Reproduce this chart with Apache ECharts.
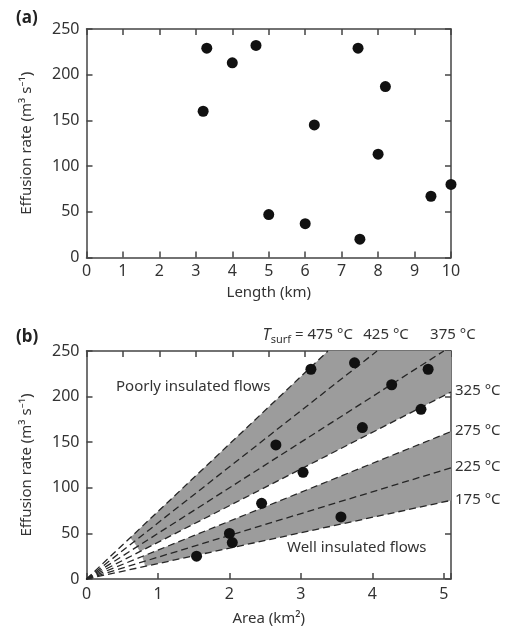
<!DOCTYPE html>
<html>
<head>
<meta charset="utf-8">
<script src="https://cdn.jsdelivr.net/npm/echarts@6/dist/echarts.min.js"></script>
<style>
  html, body { margin: 0; padding: 0; background: #fff; }
  #chart { width: 510px; height: 628px; }
</style>
</head>
<body>
<div id="chart"></div>
<script>
// Panel (a): effusion rate against flow length
const lengthKm     = [3.3, 4.0, 4.65, 7.45, 8.2, 3.2, 6.25, 8.0, 10.0, 9.45, 5.0, 6.0, 7.5];
const rateVsLength = [229, 213, 232, 229, 187, 160, 145, 113, 80, 67, 47, 37, 20];

// Panel (b): effusion rate against flow area
const areaKm2      = [3.14, 3.75, 4.78, 4.27, 4.68, 3.86, 2.65, 3.03, 2.45, 2.0, 2.04, 1.54, 3.56];
const rateVsArea   = [230, 237, 230, 213, 186, 166, 147, 117, 83, 50, 40, 25, 68];

// Model lines: effusion rate per unit area (m³ s⁻¹ per km²) for each surface temperature
const surfTempC    = [475, 425, 375, 325, 275, 225, 175];
const ratePerArea  = [74, 61.5, 50, 40.2, 31.7, 23.9, 16.9];

// Shaded envelopes, given as [upper, lower] surface temperature
const bands = [[475, 325], [275, 175]];

// Axis ranges
const lengthRange = [0, 10];
const areaRange   = [0, 5.1];
const rateRange   = [0, 250];

const FONT = 'Noto Sans';
const INK = '#333';
const AXIS = '#444';

function frameAxis(extra) {
  return Object.assign({
    type: 'value',
    axisLine: { show: true, onZero: false, lineStyle: { color: AXIS, width: 1.5 } },
    axisTick: { show: true, inside: true, length: 6, lineStyle: { color: AXIS, width: 1.5 } },
    splitLine: { show: false },
    axisLabel: { show: false }
  }, extra);
}

const tickLabel = (margin) => ({
  show: true, fontFamily: FONT, fontSize: 16, color: INK, margin: margin,
  formatter: v => (Math.abs(v - Math.round(v)) < 1e-9 ? String(Math.round(v)) : '')
});

// Shading of the envelopes starts this many pixels out from the origin
const FAN_GAP = 60;

function bandItem(params, api) {
  const [tHi, tLo] = bands[params.dataIndex];
  const iHi = surfTempC.indexOf(tHi), iLo = surfTempC.indexOf(tLo);
  const xMax = areaRange[1];
  const o = api.coord([0, 0]);
  const pts = [];
  for (let i = iHi; i <= iLo; i++) {
    const e = api.coord([xMax, ratePerArea[i] * xMax]);
    const dx = e[0] - o[0], dy = e[1] - o[1], L = Math.hypot(dx, dy);
    pts.push([o[0] + dx / L * FAN_GAP, o[1] + dy / L * FAN_GAP]);
  }
  pts.push(api.coord([xMax, ratePerArea[iLo] * xMax]));
  pts.push(api.coord([xMax, ratePerArea[iHi] * xMax]));
  return { type: 'polygon', shape: { points: pts }, style: { fill: '#9c9c9c' } };
}

function lineItem(params, api) {
  const i = params.dataIndex;
  const k = ratePerArea[i];
  const xEnd = Math.min(areaRange[1], rateRange[1] / k);
  const o = api.coord([0, 0]);
  const e = api.coord([xEnd, k * xEnd]);
  const children = [{
    type: 'line',
    shape: { x1: o[0], y1: o[1], x2: e[0], y2: e[1] },
    style: { stroke: '#262626', lineWidth: 1.3, lineDash: [7, 4] }
  }];
  const exitsTop = xEnd < areaRange[1];
  const label = surfTempC[i] + ' °C';
  if (exitsTop) {
    if (i === 0) {
      children.push({
        type: 'text', x: e[0] + 25, y: e[1] - 16,
        style: {
          text: '{t|T}{s|surf}{n| = ' + label + '}',
          align: 'right', verticalAlign: 'middle',
          rich: {
            t: { fontFamily: FONT, fontSize: 16, fontStyle: 'italic', fill: INK, verticalAlign: 'middle' },
            s: { fontFamily: FONT, fontSize: 11, fill: INK, padding: [9, 0, 0, 0], verticalAlign: 'middle' },
            n: { fontFamily: FONT, fontSize: 15, fill: INK, verticalAlign: 'middle' }
          }
        }
      });
    } else {
      children.push({
        type: 'text', x: e[0] + 9, y: e[1] - 16,
        style: { text: label, fontFamily: FONT, fontSize: 15, fill: INK, align: 'center', verticalAlign: 'middle' }
      });
    }
  } else {
    children.push({
      type: 'text', x: e[0] + 4, y: e[1] - 1,
      style: { text: label, fontFamily: FONT, fontSize: 15, fill: INK, align: 'left', verticalAlign: 'middle' }
    });
  }
  return { type: 'group', children: children };
}

const chart = echarts.init(document.getElementById('chart'), null, { renderer: 'canvas' });

chart.setOption({
  backgroundColor: '#fff',
  animation: false,
  title: [
    { text: '(a)', left: 11, top: 5, textStyle: { fontFamily: FONT, fontSize: 17, fontWeight: 'bold', color: '#222' } },
    { text: '(b)', left: 11, top: 324, textStyle: { fontFamily: FONT, fontSize: 17, fontWeight: 'bold', color: '#222' } }
  ],
  grid: [
    { left: 86.5, top: 29, width: 364.5, height: 228.5 },
    { left: 86.5, top: 351, width: 364.5, height: 228 }
  ],
  xAxis: [
    frameAxis({
      gridIndex: 0, position: 'bottom', min: lengthRange[0], max: lengthRange[1], interval: 1,
      axisLabel: tickLabel(6),
      name: 'Length (km)', nameLocation: 'middle', nameGap: 28,
      nameTextStyle: { fontFamily: FONT, fontSize: 15, color: INK }
    }),
    frameAxis({ gridIndex: 0, position: 'top', min: lengthRange[0], max: lengthRange[1], interval: 1 }),
    frameAxis({
      gridIndex: 1, position: 'bottom', min: areaRange[0], max: areaRange[1], interval: 1,
      axisLabel: tickLabel(7),
      name: 'Area (km²)', nameLocation: 'middle', nameGap: 32,
      nameTextStyle: { fontFamily: FONT, fontSize: 15, color: INK }
    }),
    frameAxis({ gridIndex: 1, position: 'top', min: lengthRange[0], max: lengthRange[1], interval: 1 })
  ],
  yAxis: [
    frameAxis({
      gridIndex: 0, position: 'left', min: rateRange[0], max: rateRange[1], interval: 50,
      axisLabel: tickLabel(7),
      name: 'Effusion rate (m³ s⁻¹)', nameLocation: 'middle', nameGap: 52,
      nameTextStyle: { fontFamily: FONT, fontSize: 15, color: INK }
    }),
    frameAxis({ gridIndex: 0, position: 'right', min: rateRange[0], max: rateRange[1], interval: 50 }),
    frameAxis({
      gridIndex: 1, position: 'left', min: rateRange[0], max: rateRange[1], interval: 50,
      axisLabel: tickLabel(7),
      name: 'Effusion rate (m³ s⁻¹)', nameLocation: 'middle', nameGap: 52,
      nameTextStyle: { fontFamily: FONT, fontSize: 15, color: INK }
    }),
    frameAxis({ gridIndex: 1, position: 'right', min: rateRange[0], max: rateRange[1], interval: 50 })
  ],
  graphic: [
    { type: 'text', left: 116, top: 379, style: { text: 'Poorly insulated flows', fontFamily: FONT, fontSize: 15, fill: INK } },
    { type: 'text', left: 287, top: 540, style: { text: 'Well insulated flows', fontFamily: FONT, fontSize: 15, fill: INK } }
  ],
  series: [
    {
      type: 'custom', name: 'envelopes', xAxisIndex: 2, yAxisIndex: 2, clip: true, z: 1,
      renderItem: bandItem, data: bands.map((b, i) => [i, 0]), silent: true
    },
    {
      type: 'custom', name: 'surface temperature', xAxisIndex: 2, yAxisIndex: 2, clip: false, z: 2,
      renderItem: lineItem, data: surfTempC.map((t, i) => [i, 0]), silent: true
    },
    {
      type: 'scatter', xAxisIndex: 0, yAxisIndex: 0, symbolSize: 11, z: 5,
      itemStyle: { color: '#111', opacity: 1 },
      data: lengthKm.map((x, i) => [x, rateVsLength[i]])
    },
    {
      type: 'scatter', xAxisIndex: 2, yAxisIndex: 2, symbolSize: 11, z: 5,
      itemStyle: { color: '#111', opacity: 1 },
      data: areaKm2.map((x, i) => [x, rateVsArea[i]])
    }
  ]
});
</script>
</body>
</html>
